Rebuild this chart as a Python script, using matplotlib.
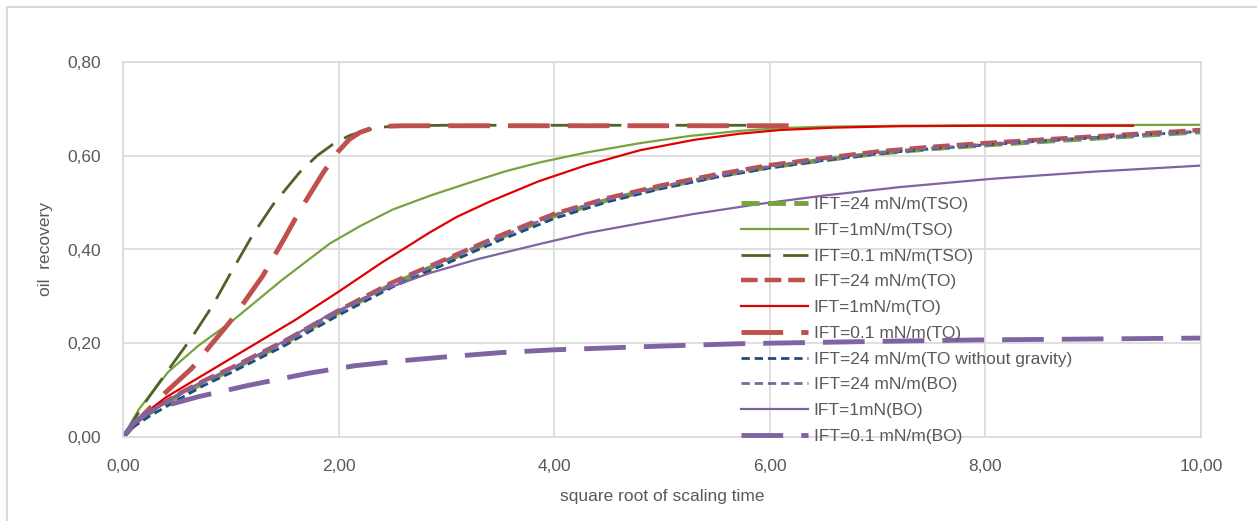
import matplotlib
matplotlib.use("Agg")
import matplotlib.pyplot as plt
from matplotlib.ticker import FuncFormatter, MultipleLocator
from matplotlib.patches import Rectangle

plt.rcParams['font.family'] = ['Liberation Sans', 'DejaVu Sans']
plt.rcParams['lines.scale_dashes'] = False

# ---- data ----
x_tso24 = [0, 0.1, 0.25, 0.5, 0.75, 1.0, 1.5, 2.0, 2.5, 3.0, 3.5, 4.0, 4.5, 5.0, 5.5, 6.0, 6.5, 7.0, 7.5, 8.0, 8.5, 9.0, 9.5, 10]
y_tso24 = [0, 0.026, 0.052, 0.086, 0.116, 0.143, 0.201, 0.266, 0.326, 0.376, 0.426, 0.472, 0.506, 0.533, 0.556, 0.576, 0.591, 0.605, 0.615, 0.623, 0.630, 0.637, 0.644, 0.651]

x_tso1 = [0, 0.15, 0.42, 0.7, 1.0, 1.47, 1.92, 2.2, 2.5, 2.85, 3.22, 3.55, 3.87, 4.3, 4.8, 5.25, 5.72, 6.1, 6.5, 7.2, 8.0, 10]
y_tso1 = [0, 0.06, 0.139, 0.195, 0.245, 0.334, 0.413, 0.45, 0.485, 0.515, 0.543, 0.567, 0.586, 0.607, 0.627, 0.642, 0.653, 0.659, 0.662, 0.664, 0.665, 0.666]

x_tso01 = [0, 0.2, 0.42, 0.64, 0.83, 1.0, 1.2, 1.39, 1.64, 1.8, 1.95, 2.1, 2.26, 2.4, 2.57, 3.0, 6.2]
y_tso01 = [0, 0.072, 0.143, 0.213, 0.28, 0.35, 0.43, 0.495, 0.565, 0.6, 0.625, 0.643, 0.655, 0.661, 0.664, 0.665, 0.665]

x_to24 = [0, 0.1, 0.25, 0.5, 0.75, 1.0, 1.5, 2.0, 2.5, 3.0, 3.5, 4.0, 4.5, 5.0, 5.5, 6.0, 6.5, 7.0, 7.5, 8.0, 8.5, 9.0, 9.5, 10]
y_to24 = [0, 0.028, 0.055, 0.09, 0.12, 0.147, 0.205, 0.27, 0.33, 0.38, 0.43, 0.476, 0.51, 0.537, 0.56, 0.58, 0.595, 0.609, 0.619, 0.627, 0.634, 0.641, 0.648, 0.655]

x_to1 = [0, 0.2, 0.4, 0.8, 1.2, 1.6, 2.0, 2.4, 2.85, 3.1, 3.4, 3.85, 4.3, 4.8, 5.3, 5.72, 6.1, 6.6, 7.2, 8.0, 9.37]
y_to1 = [0, 0.05, 0.085, 0.14, 0.195, 0.25, 0.31, 0.372, 0.437, 0.47, 0.502, 0.545, 0.58, 0.612, 0.634, 0.647, 0.655, 0.66, 0.663, 0.664, 0.664]

x_to01 = [0, 0.2, 0.39, 0.64, 0.76, 0.99, 1.11, 1.3, 1.5, 1.64, 1.86, 2.0, 2.1, 2.2, 2.3, 2.45, 2.6, 6.2]
y_to01 = [0, 0.05, 0.094, 0.147, 0.181, 0.245, 0.283, 0.345, 0.425, 0.483, 0.565, 0.61, 0.635, 0.65, 0.658, 0.663, 0.664, 0.664]

x_tong = [0, 0.1, 0.25, 0.5, 0.75, 1.0, 1.5, 2.0, 2.5, 3.0, 3.5, 4.0, 4.5, 5.0, 5.5, 6.0, 6.5, 7.0, 7.5, 8.0, 8.5, 9.0, 9.5, 10]
y_tong = [0, 0.022, 0.045, 0.078, 0.11, 0.137, 0.195, 0.26, 0.32, 0.37, 0.42, 0.466, 0.502, 0.53, 0.554, 0.574, 0.59, 0.604, 0.615, 0.623, 0.631, 0.638, 0.645, 0.652]

x_bo24 = [0, 0.1, 0.25, 0.5, 0.75, 1.0, 1.5, 2.0, 2.5, 3.0, 3.5, 4.0, 4.5, 5.0, 5.5, 6.0, 6.5, 7.0, 7.5, 8.0, 8.5, 9.0, 9.5, 10]
y_bo24 = [0, 0.027, 0.053, 0.087, 0.117, 0.144, 0.202, 0.267, 0.327, 0.377, 0.427, 0.473, 0.507, 0.534, 0.557, 0.577, 0.592, 0.606, 0.616, 0.624, 0.631, 0.638, 0.645, 0.652]

x_bo1 = [0, 0.1, 0.25, 0.5, 0.75, 1.0, 1.5, 1.92, 2.4, 2.85, 3.3, 3.87, 4.3, 4.8, 5.3, 5.9, 6.5, 7.2, 8.07, 9.0, 10]
y_bo1 = [0, 0.028, 0.055, 0.09, 0.12, 0.145, 0.205, 0.262, 0.313, 0.35, 0.38, 0.412, 0.435, 0.456, 0.476, 0.497, 0.515, 0.533, 0.551, 0.566, 0.579]

x_bo01 = [0, 0.1, 0.23, 0.4, 0.7, 1.16, 1.72, 2.15, 2.6, 3.0, 3.5, 4.0, 5.0, 5.72, 7.0, 7.9, 10]
y_bo01 = [0, 0.03, 0.052, 0.067, 0.086, 0.11, 0.136, 0.152, 0.163, 0.171, 0.18, 0.186, 0.194, 0.199, 0.204, 0.207, 0.211]

labels = ['IFT=24 mN/m(TSO)', 'IFT=1mN/m(TSO)', 'IFT=0.1 mN/m(TSO)',
          'IFT=24 mN/m(TO)', 'IFT=1mN/m(TO)', 'IFT=0.1 mN/m(TO)',
          'IFT=24 mN/m(TO without gravity)', 'IFT=24 mN/m(BO)',
          'IFT=1mN(BO)', 'IFT=0.1 mN/m(BO)']

# ---- figure ----
fig = plt.figure(figsize=(12.57, 5.21), dpi=100)
ax = fig.add_axes([123/1257, 84/521, 1078/1257, 375/521])

# outer chart frame
fig.patches.append(Rectangle((7/1257, -0.05), 1.1, (521-7)/521 + 0.05, transform=fig.transFigure,
                             fill=False, edgecolor='#D9D9D9', lw=1.5))

long_dash = (0, (30, 13))
ax.plot(x_tso24, y_tso24, color='#77A33F', lw=3.5, ls=(0, (13, 6)), label=labels[0])
ax.plot(x_tso1, y_tso1, color='#77A33F', lw=1.6, label=labels[1])
ax.plot(x_tso01, y_tso01, color='#4F6228', lw=2, ls=(0, (21, 9)), label=labels[2])
ax.plot(x_to24, y_to24, color='#C0504D', lw=3.2, ls=(0, (12, 5)), label=labels[3])
ax.plot(x_to1, y_to1, color='#E00000', lw=1.6, label=labels[4])
ax.plot(x_to01, y_to01, color='#C0504D', lw=3.5, ls=long_dash, label=labels[5])
ax.plot(x_tong, y_tong, color='#1F4E79', lw=2, ls=(0, (6, 3.5)), label=labels[6])
ax.plot(x_bo24, y_bo24, color='#8064A2', lw=2, ls=(0, (6, 3.5)), label=labels[7])
ax.plot(x_bo1, y_bo1, color='#8064A2', lw=1.6, label=labels[8])
ax.plot(x_bo01, y_bo01, color='#8064A2', lw=3.5, ls=long_dash, label=labels[9])

ax.set_xlim(0, 10)
ax.set_ylim(0, 0.8)
ax.xaxis.set_major_locator(MultipleLocator(2))
ax.yaxis.set_major_locator(MultipleLocator(0.2))
fmt = FuncFormatter(lambda v, p: f"{v:.2f}".replace('.', ','))
ax.xaxis.set_major_formatter(fmt)
ax.yaxis.set_major_formatter(fmt)
ax.grid(True, color='#D9D9D9', lw=1.2)
ax.set_axisbelow(True)
for s in ax.spines.values():
    s.set_color('#D9D9D9')
    s.set_linewidth(1.2)
ax.tick_params(length=0, labelsize=12.5, labelcolor='#595959', pad=16)

ax.set_xlabel('square root of scaling time', fontsize=12.5, color='#595959', labelpad=11)
ax.set_ylabel('oil  recovery', fontsize=12.5, color='#595959', labelpad=10)

leg = ax.legend(loc='upper left', bbox_to_anchor=(741/1257, 1 - 197/521), bbox_transform=fig.transFigure,
                frameon=False, fontsize=12.5, handlelength=3.85, handletextpad=0.33,
                labelspacing=0.61, borderaxespad=0, borderpad=0)
for t in leg.get_texts():
    t.set_color('#595959')

fig.savefig('out.png', dpi=100)
